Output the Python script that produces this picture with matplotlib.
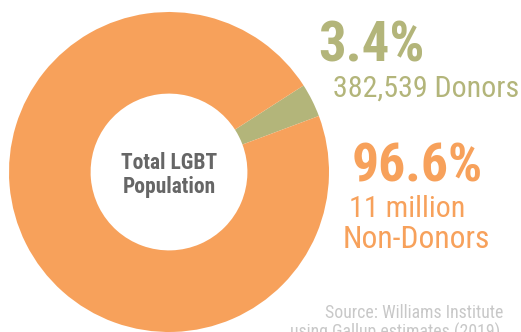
import matplotlib
matplotlib.use("Agg")
import matplotlib.pyplot as plt
from matplotlib import font_manager as fm

labels = ["Donors", "Non-Donors"]
shares = [3.4, 96.6]
colors = ["#B3B57A", "#F7A15B"]
pct_texts = ["3.4%", "96.6%"]
sub_texts = ["382,539 Donors", "11 million\nNon-Donors"]
center_text = "Total LGBT\nPopulation"
source_lines = ["Source: Williams Institute", "using Gallup estimates (2019)"]

W, H = 521, 332
names = set(f.name for f in fm.fontManager.ttflist)
fam = None
for cand in ["Liberation Sans Narrow", "Roboto Condensed", "DejaVu Sans Condensed", "Liberation Sans"]:
    if cand in names:
        fam = cand
        break
plt.rcParams['font.family'] = [fam, 'DejaVu Sans']

fig = plt.figure(figsize=(W / 100, H / 100), dpi=100)
ax = fig.add_axes([0, 0, 1, 1])

cx, cy, R = 169, H - 172, 160
ax.pie(shares, colors=colors, startangle=20.5, counterclock=True,
       center=(cx, cy), radius=R, frame=True,
       wedgeprops=dict(width=R * 0.51, edgecolor='none'))
ax.set_xlim(0, W)
ax.set_ylim(0, H)
ax.set_aspect('equal')
ax.axis('off')

c1, c2 = center_text.split("\n")
ax.text(cx, H - 169, c1, ha='center', va='baseline',
        fontsize=15.5, fontweight='bold', color='#666666')
ax.text(cx, H - 193, c2, ha='center', va='baseline',
        fontsize=15.5, fontweight='bold', color='#666666')

ax.text(318, H - 62, pct_texts[0], ha='left', va='baseline', fontsize=39.5,
        fontweight='bold', color=colors[0])
ax.text(333, H - 97, sub_texts[0], ha='left', va='baseline', fontsize=21.6,
        color=colors[0])

ax.text(352, H - 181, pct_texts[1], ha='left', va='baseline', fontsize=38.6,
        fontweight='bold', color=colors[1])
l1, l2 = sub_texts[1].split("\n")
ax.text(349, H - 217, l1, ha='left', va='baseline', fontsize=21.6, color=colors[1])
ax.text(343, H - 248, l2, ha='left', va='baseline', fontsize=22.8, color=colors[1])

ax.text(503, H - 318, source_lines[0], ha='right', va='baseline', fontsize=12.8,
        color='#C8C8C8')
ax.text(500, H - 338, source_lines[1], ha='right', va='baseline', fontsize=12.8,
        color='#C8C8C8')

fig.savefig("out.png", dpi=100)
